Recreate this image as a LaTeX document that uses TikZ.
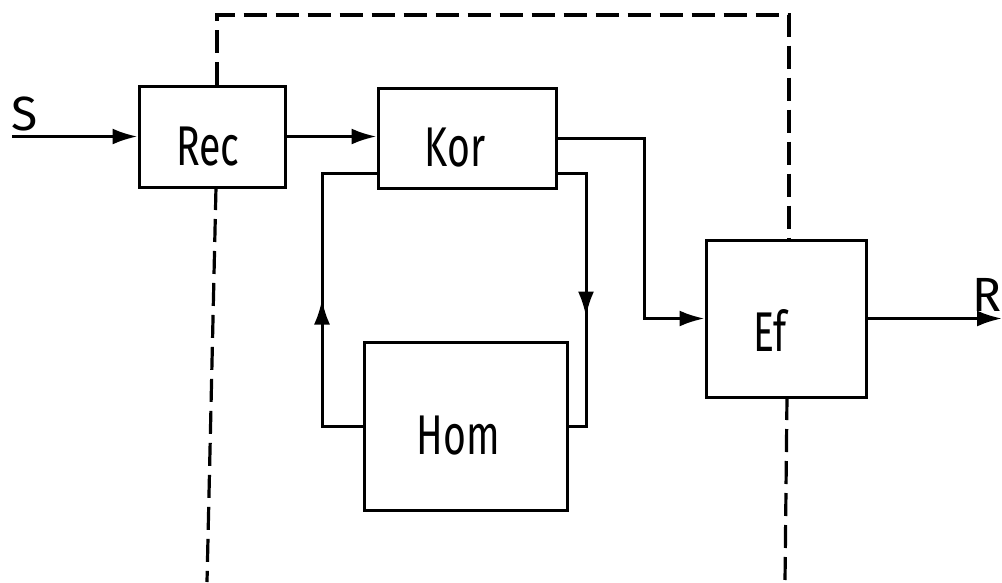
\documentclass[tikz,border=0pt]{standalone}
\usepackage{graphicx}
\usepackage{fontspec}
\setmainfont{Fira Sans}
\usetikzlibrary{arrows.meta,decorations.markings}
\newcommand\nm[1]{\scalebox{0.7}[1]{#1}}
\begin{document}
\begin{tikzpicture}[x=1pt,y=-1pt,
  ln/.style={line width=3pt},
  blk/.style={ln,draw,rectangle,inner sep=0pt},
  txt/.style={font=\fontsize{56}{56}\selectfont,yshift=-10pt},
  io/.style={font=\fontsize{48}{48}\selectfont,inner sep=0pt},
  arr/.style={ln,-{Latex[length=25pt,width=16pt]}},
  frame/.style={line width=3.2pt,dash pattern=on 23pt off 9pt},
  midarr/.style={ln,postaction={decorate},decoration={markings,mark=at position #1 with {\arrow{Latex[length=25pt,width=16pt]}}}}
]
\useasboundingbox (0,0) rectangle (1002,582);
\fill[white] (0,0) rectangle (1002,582);

% blocks
\node[blk,minimum width=146pt,minimum height=101pt,label={[txt,xshift=-4pt]center:\nm{Rec}}] (Rec) at (212,136.5) {};
\node[blk,minimum width=178pt,minimum height=100pt,label={[txt,xshift=-12pt]center:\nm{Kor}}] (Kor) at (467,138) {};
\node[blk,minimum width=203pt,minimum height=168pt,label={[txt,xshift=-7pt]center:\nm{Hom}}] (Hom) at (465.5,426) {};
\node[blk,minimum width=160pt,minimum height=157pt,label={[txt,xshift=-16pt,yshift=-2pt]center:\nm{Ef}}] (Ef) at (786,318.5) {};

% dashed frame
\coordinate (tl) at (217,15);
\coordinate (tr) at (789,15);
\coordinate (bl) at (207,582);
\coordinate (br) at (785,582);
\draw[frame] (tl |- Rec.north) -- (tl) -- (tr) -- (tr |- Ef.north);
\draw[frame] (216,187) -- (bl);
\draw[frame] (787,397) -- (br);

% input / output
\coordinate (sin) at (12,136.5);
\coordinate (rout) at (1002,318.5);
\node[io,anchor=south west] (S) at (11,131) {S};
\node[io,anchor=south east] (R) at (1002,312) {R};
\draw[arr] (sin) -- (Rec.west);
\draw[arr] (Rec.east) -- (Kor.west |- Rec.east);
\draw[arr] (Kor.east) -- ++(87,0) |- (Ef.west);
\draw[arr] (Ef.east) -- (rout);

% feedback loop
\coordinate (lt) at (322,173);
\coordinate (rt) at (586,173);
\draw[midarr=167pt] (Hom.west) -| (lt) -- (Kor.west |- lt);
\draw[midarr=172pt] (Kor.east |- rt) -- (rt) |- (Hom.east);
\end{tikzpicture}
\end{document}
